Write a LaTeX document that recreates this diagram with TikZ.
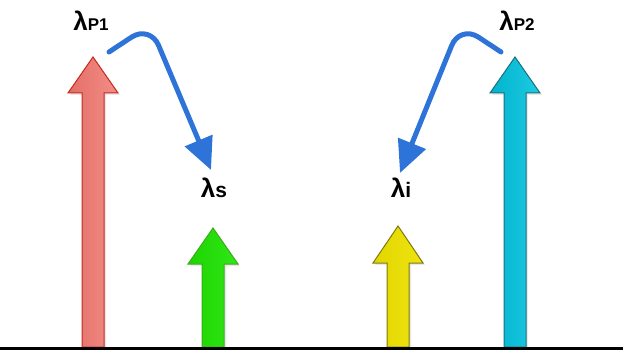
\documentclass[tikz,border=0pt]{standalone}
\usepackage{fontspec}
\setmainfont{Liberation Sans}
\usetikzlibrary{arrows.meta,shadows}
\definecolor{redfillA}{HTML}{E36F67}
\definecolor{redfillB}{HTML}{F28E88}
\definecolor{redline}{HTML}{C8281C}
\definecolor{grnfillA}{HTML}{1ED400}
\definecolor{grnfillB}{HTML}{30E818}
\definecolor{grnline}{HTML}{3DAA20}
\definecolor{yelfillA}{HTML}{E2D600}
\definecolor{yelfillB}{HTML}{EFE410}
\definecolor{yelline}{HTML}{7E7A10}
\definecolor{cyafillA}{HTML}{00B3CC}
\definecolor{cyafillB}{HTML}{1ECBE2}
\definecolor{cyaline}{HTML}{1A7080}
\definecolor{curveblue}{HTML}{2E74D8}
\newcommand\MyUpArrow[4]{%
  \path[#4] (#1-11,347) -- (#1-11,#3) -- (#1-25,#3) -- (#1,#2) -- (#1+25,#3)
     -- (#1+11,#3) -- (#1+11,347) -- cycle;}
\tikzset{
  bigarr/.style={line width=1pt, line join=miter, drop shadow={opacity=0.18, shadow xshift=2pt, shadow yshift=-2pt}},
  lbl/.style={inner sep=0pt, font=\bfseries},
  swoop/.style={draw=curveblue, line width=5pt, line cap=round, rounded corners=22pt,
    -{Triangle[length=32pt,width=29pt]}},
}
\newcommand\Lam[2]{{\fontsize{26}{26}\selectfont λ}{\fontsize{#2}{#2}\selectfont #1}}
\begin{document}
\begin{tikzpicture}[x=1pt,y=-1pt]
\useasboundingbox (0,0) rectangle (623,350);
\MyUpArrow{93}{57}{93}{bigarr, draw=redline, left color=redfillA, right color=redfillB}
\MyUpArrow{213}{228}{264}{bigarr, draw=grnline, left color=grnfillA, right color=grnfillB}
\MyUpArrow{398}{226}{263}{bigarr, draw=yelline, left color=yelfillA, right color=yelfillB}
\MyUpArrow{515}{57}{93}{bigarr, draw=cyaline, left color=cyafillA, right color=cyafillB}

\node[lbl] (lp1) at (91,21) {\Lam{P1}{17}};
\node[lbl] (ls) at (214,188) {\Lam{s}{21}};
\node[lbl] (li) at (401,188) {\Lam{i}{21}};
\node[lbl] (lp2) at (517,21) {\Lam{P2}{17}};

\coordinate (s1) at (109,52);
\coordinate (s2) at (501,52);
\coordinate (e1) at (211,170);
\coordinate (e2) at (400,173);

\path[swoop] (s1) -- (150,25) -- (e1);
\path[swoop] (s2) -- (460,25) -- (e2);

\draw[line width=3pt] (0,348.5) -- (623,348.5);
\end{tikzpicture}
\end{document}
